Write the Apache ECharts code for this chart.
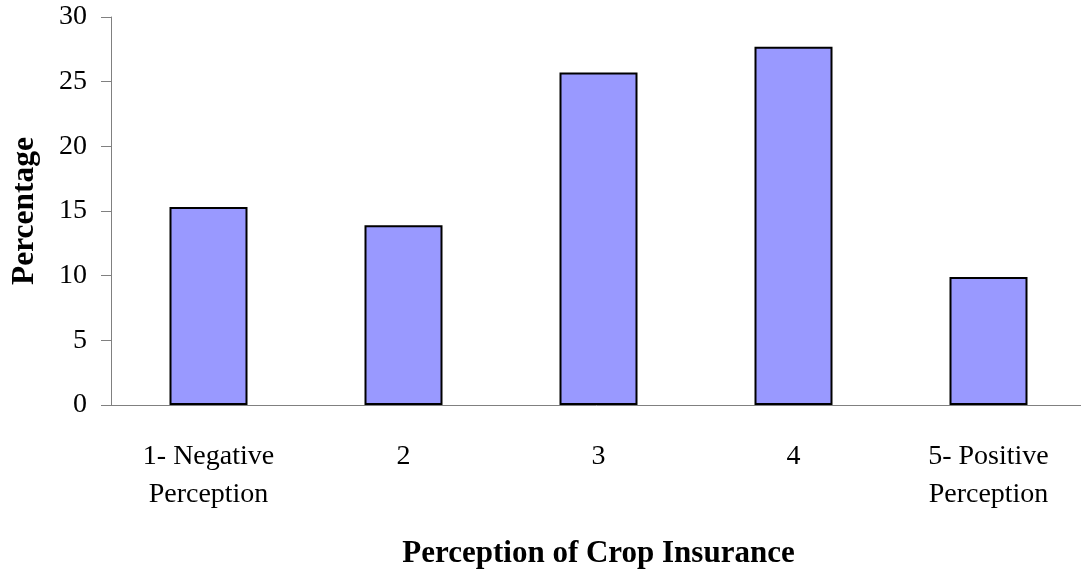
<!DOCTYPE html>
<html>
<head>
<meta charset="utf-8">
<script src="https://cdn.jsdelivr.net/npm/echarts@6/dist/echarts.min.js"></script>
<style>
  html, body { margin: 0; padding: 0; background: #fff; }
  #chart { width: 1081px; height: 571px; }
</style>
</head>
<body>
<div id="chart"></div>
<script>
// Survey responses: perception of crop insurance on a 1–5 scale
const categories = ['1- Negative\nPerception', '2', '3', '4', '5- Positive\nPerception'];
const percentages = [15.3, 13.9, 25.7, 27.7, 9.9];
const yTicks = { min: 0, max: 30, interval: 5 };

const serif = '"Liberation Serif", "Times New Roman", serif';
const chart = echarts.init(document.getElementById('chart'));

chart.setOption({
  animation: false,
  grid: { left: 111, top: 17, width: 975, height: 388, containLabel: false, outerBoundsMode: 'none' },
  xAxis: {
    type: 'category',
    data: categories,
    name: 'Perception of Crop Insurance',
    nameLocation: 'middle',
    nameGap: 133,
    nameTextStyle: { fontFamily: serif, fontSize: 31, fontWeight: 'bold', color: '#000' },
    axisLine: { lineStyle: { color: '#808080', width: 1 } },
    axisTick: { alignWithLabel: false, length: 8, lineStyle: { color: '#808080' } },
    axisLabel: { fontFamily: serif, fontSize: 28, color: '#000', margin: 33, lineHeight: 38, interval: 0 }
  },
  yAxis: {
    type: 'value',
    min: yTicks.min,
    max: yTicks.max,
    interval: yTicks.interval,
    name: 'Percentage',
    nameLocation: 'middle',
    nameGap: 70,
    nameTextStyle: { fontFamily: serif, fontSize: 31.5, fontWeight: 'bold', color: '#000' },
    axisLine: { show: true, lineStyle: { color: '#808080', width: 1 } },
    axisTick: { show: true, inside: false, length: 10, lineStyle: { color: '#808080' } },
    axisLabel: { fontFamily: serif, fontSize: 28, color: '#000', margin: 24 },
    splitLine: { show: false }
  },
  series: [{
    type: 'bar',
    data: percentages,
    barWidth: '40%',
    itemStyle: { color: '#9999FF', borderColor: '#000', borderWidth: 2 }
  }]
});
</script>
</body>
</html>
